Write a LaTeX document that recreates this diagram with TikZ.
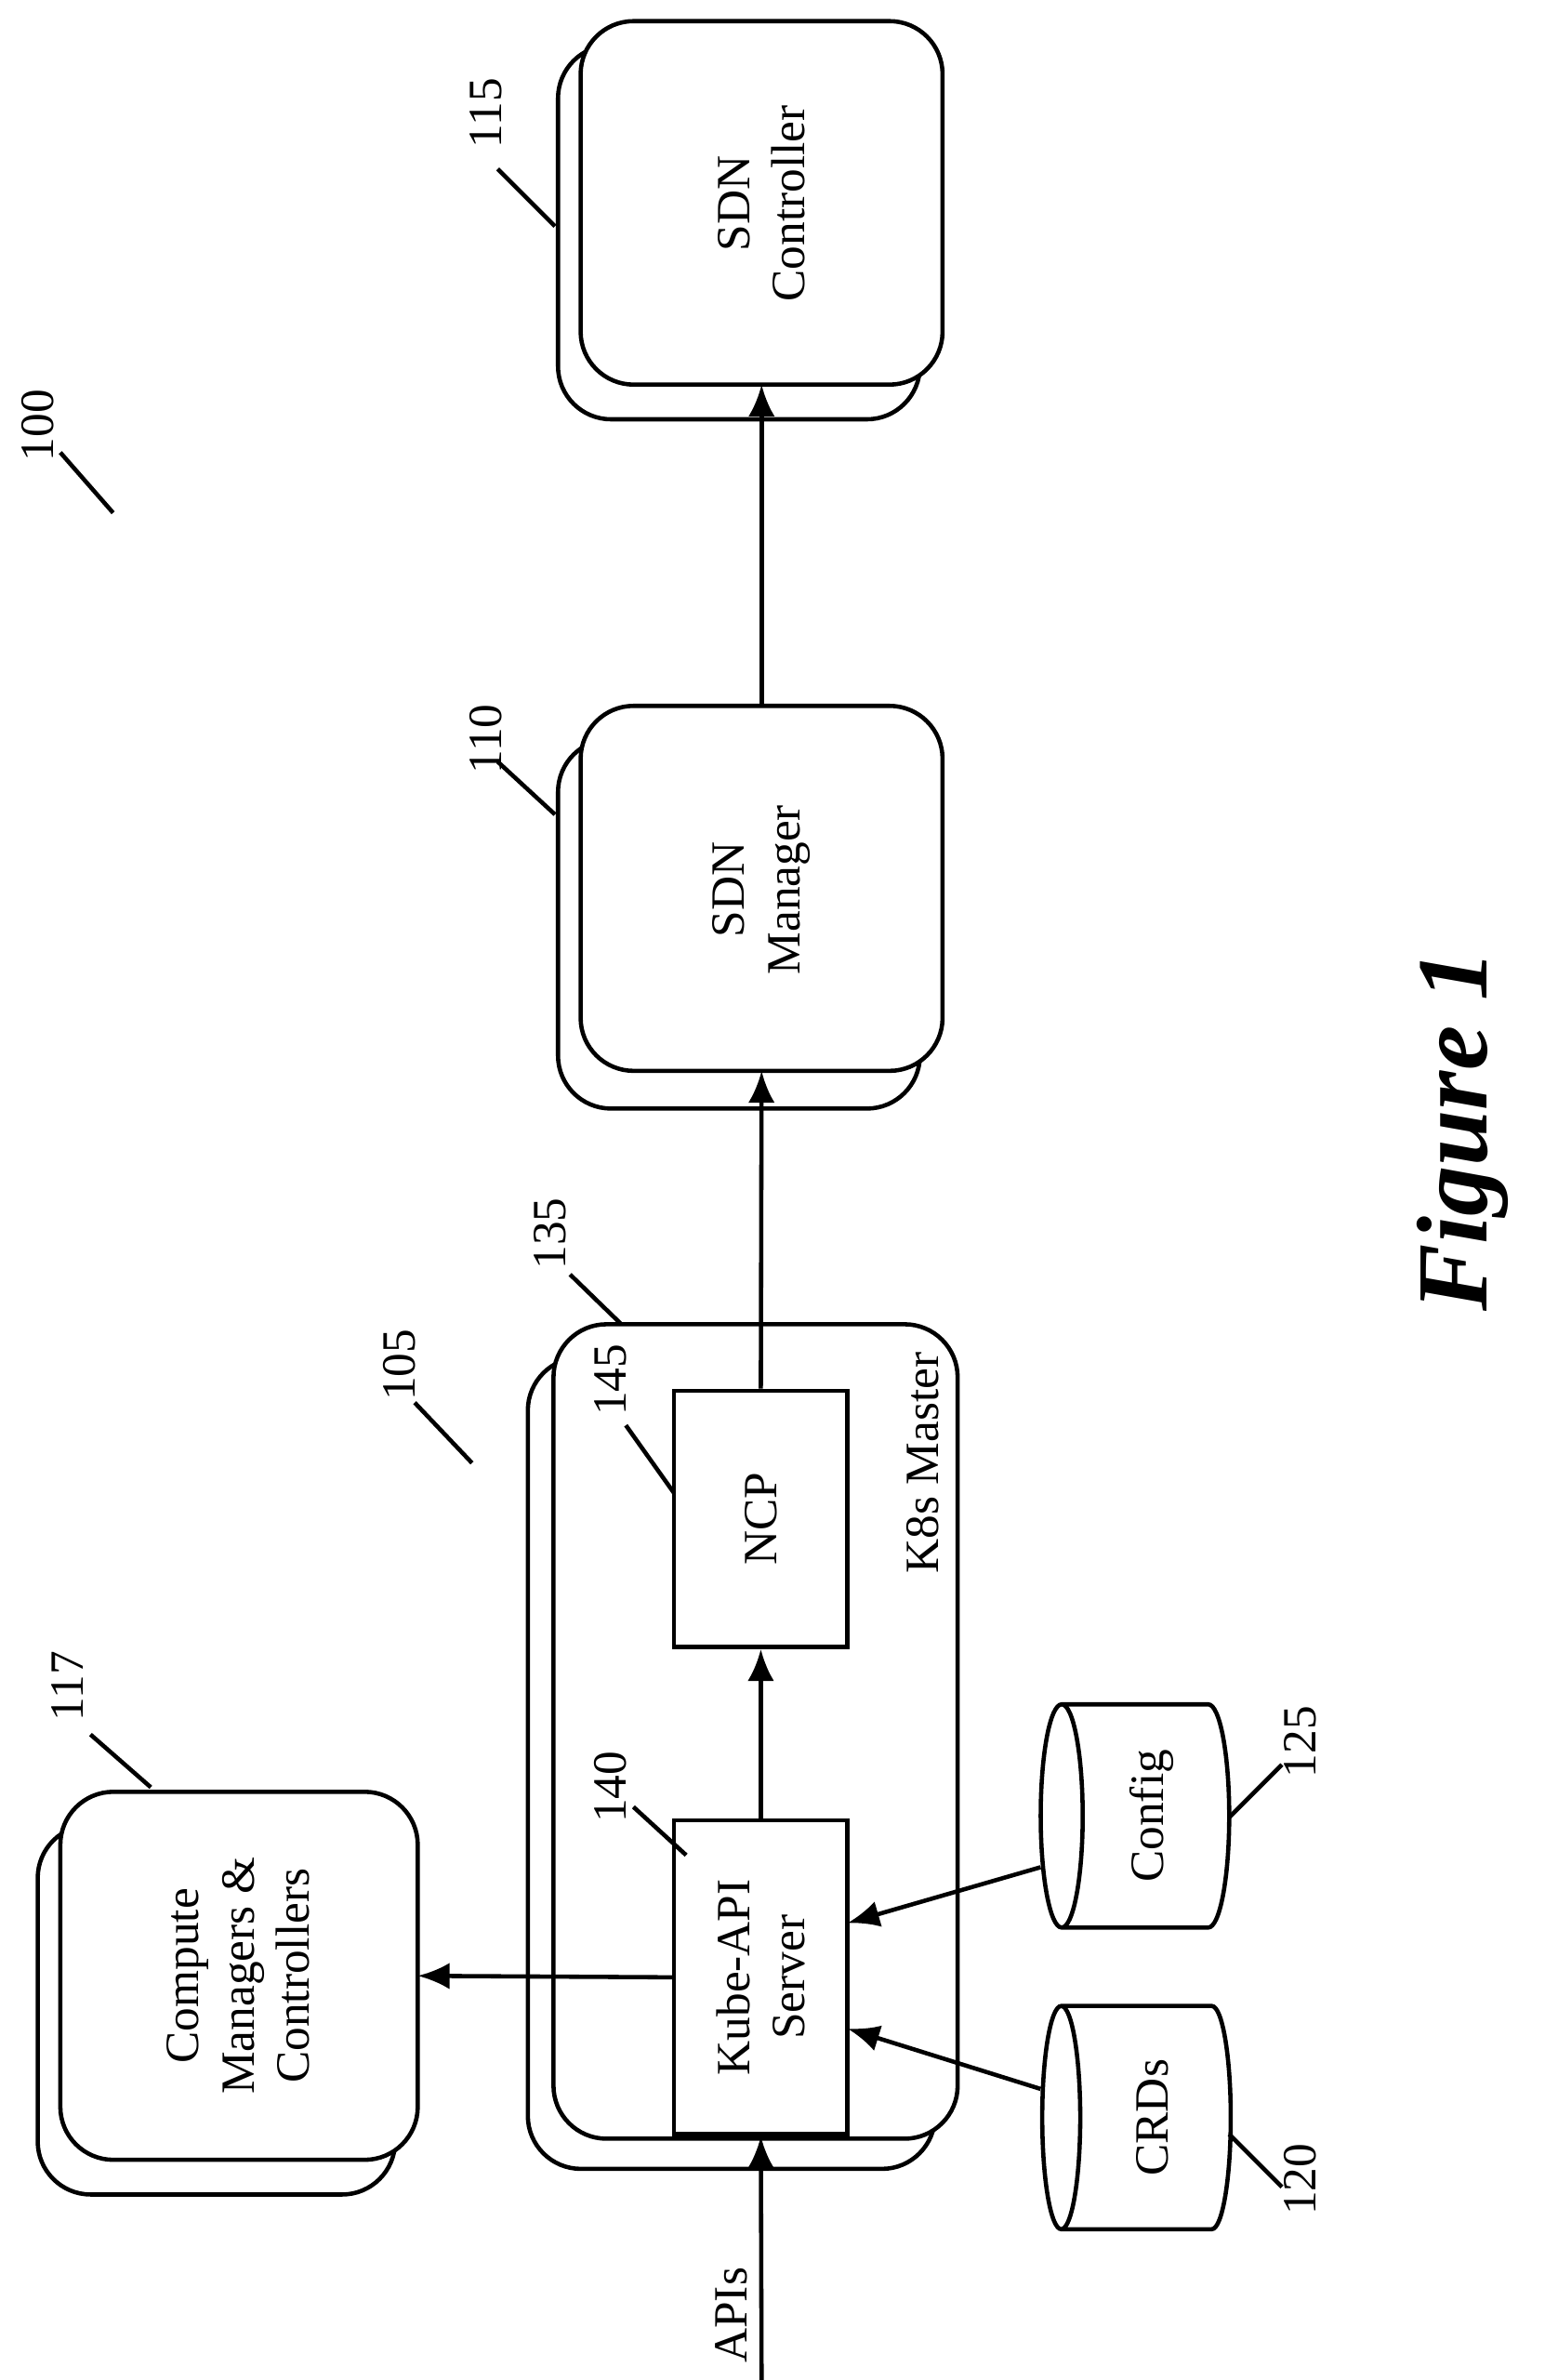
\documentclass[tikz,border=0pt]{standalone}
\usepackage{fontspec}
\setmainfont{Liberation Serif}
\usetikzlibrary{shapes.geometric,arrows.meta}
\begin{document}
\begin{tikzpicture}[x=0.01cm,y=-0.01cm,
            box/.style={draw, line width=0.8pt, rounded corners=10pt, fill=white},
            blk/.style={draw, line width=0.8pt, fill=white},
            txt/.style={rotate=90, align=center, font=\fontsize{9}{10.5}\selectfont},
            num/.style={rotate=90, font=\fontsize{9}{10.5}\selectfont},
            arr/.style={-{Latex[length=6pt,width=5pt]}, line width=0.8pt},
            lead/.style={line width=0.8pt},
            db/.style={draw, line width=0.8pt, shape=cylinder, shape border rotate=90, aspect=0.25,
                       minimum width=148*0.01cm, minimum height=125*0.01cm, txt}]
        \useasboundingbox (0,0) rectangle (1024,1578);

        % SDN controller
        \draw[box] (370,30) rectangle (610,278);
        \draw[box] (385,14) rectangle (625,255);
        \node[txt] (ctrl) at (505,135) {SDN\\Controller};
        \node[num] at (322,75) {115};
        \draw[lead] (330,112) -- (368,150);
        \node[num] at (25,282) {100};
        \draw[lead] (40,300) -- (75,340);

        % SDN manager
        \draw[box] (370,490) rectangle (610,735);
        \draw[box] (385,468) rectangle (625,710);
        \node[txt] (mgr) at (505,590) {SDN\\Manager};
        \node[num] at (322,490) {110};
        \draw[lead] (330,505) -- (368,540);
        \draw[arr] (505,468) -- (505,255);

        % K8s master
        \draw[box] (350,900) rectangle (620,1438);
        \draw[box] (367,878) rectangle (635,1418);
        \node[txt] at (612,970) {K8s Master};
        \node[num] at (365,818) {135};
        \draw[lead] (378,845) -- (412,878);
        \node[num] at (265,905) {105};
        \draw[lead] (275,930) -- (313,970);

        \node[blk, minimum width=115*0.01cm, minimum height=170*0.01cm] (ncp) at (504.5,1007) {};
        \node[txt] at (ncp) {NCP};
        \node[num] at (405,915) {145};
        \draw[lead] (415,945) -- (447,990);

        \node[blk, minimum width=115*0.01cm, minimum height=208*0.01cm] (api) at (504.5,1311) {};
        \node[txt] at (api) {Kube-API\\Server};
        \node[num] at (405,1185) {140};
        \draw[lead] (420,1198) -- (455,1230);

        \draw[arr] (api.north) -- (ncp.south);
        \draw[arr] (ncp.north) -- (505,710);

        % compute managers
        \draw[box] (25,1210) rectangle (262,1455);
        \draw[box] (40,1188) rectangle (277,1432);
        \node[txt] (comp) at (158,1310) {Compute\\Managers \&\\Controllers};
        \node[num] at (45,1118) {117};
        \draw[lead] (60,1150) -- (100,1185);
        \draw[arr] (api.west) -- (277,1310);

        % stores
        \node[db] (cfg) at (764,1204) {Config};
        \node[num] at (862,1155) {125};
        \draw[lead] (815,1205) -- (850,1170);
        \node[db] (crd) at (764,1404) {CRDs};
        \node[num] at (862,1445) {120};
        \draw[lead] (815,1415) -- (850,1450);
        \draw[arr] (690,1238) -- (562,1275);
        \draw[arr] (690,1385) -- (562,1345);

        % APIs
        \coordinate (in) at (505,1578);
        \draw[arr] (in) -- (api.south);
        \node[txt] at (485,1535) {APIs};

        \node[rotate=90, font=\bfseries\itshape\fontsize{19}{22}\selectfont] at (970,750) {Figure 1};
\end{tikzpicture}
\end{document}
